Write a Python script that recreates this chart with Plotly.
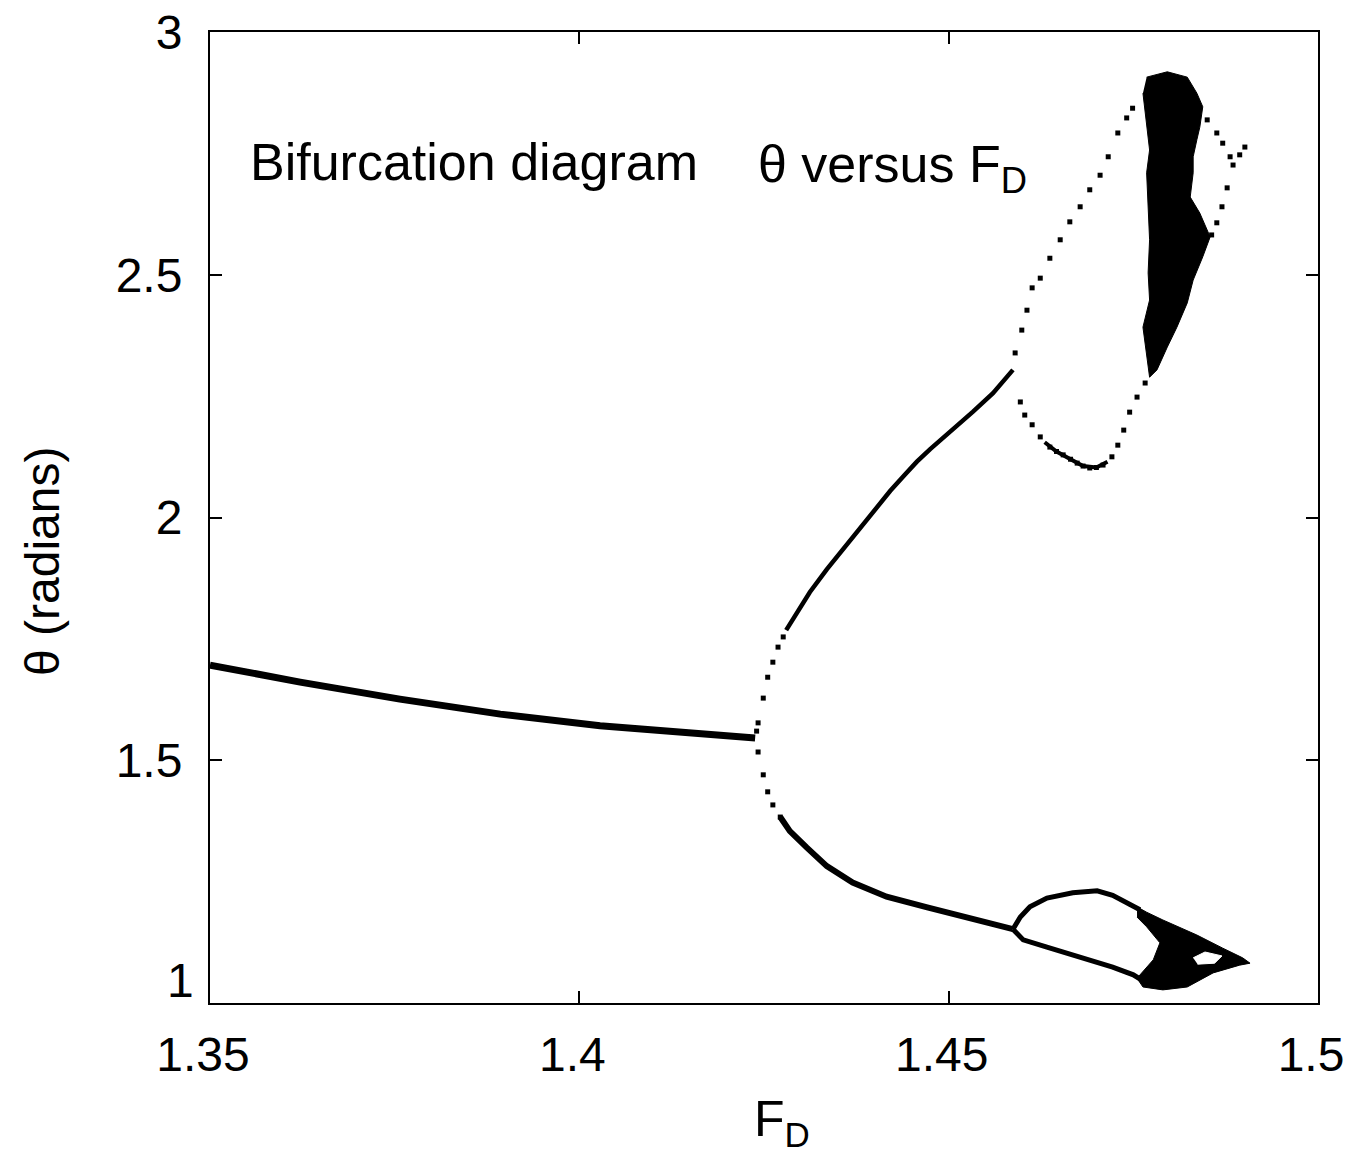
import plotly.graph_objects as go

# ---------------- data ----------------
# period-1 branch (solid)
p1_fd = [1.35, 1.3622, 1.3757, 1.3893, 1.4028, 1.4163, 1.4238]
p1_th = [1.696, 1.661, 1.626, 1.595, 1.571, 1.554, 1.546]

# sparse dots right after the first bifurcation
bif_dots_fd = [1.4240, 1.4242, 1.4249, 1.4255, 1.4262, 1.4269, 1.4276,
               1.4242, 1.4249, 1.4255, 1.4262, 1.4272]
bif_dots_th = [1.560, 1.577, 1.628, 1.671, 1.702, 1.733, 1.754,
               1.517, 1.470, 1.435, 1.408, 1.383]

# upper period-2 branch (solid)
up_fd = [1.4280, 1.4290, 1.4299, 1.4312, 1.4335, 1.4362, 1.4389, 1.4405, 1.4421,
         1.4440, 1.4457, 1.4475, 1.4492, 1.4512, 1.4533, 1.4560, 1.4587]
up_th = [1.768, 1.792, 1.814, 1.846, 1.893, 1.944, 1.993, 2.025, 2.055,
         2.087, 2.115, 2.141, 2.163, 2.190, 2.218, 2.256, 2.304]

# lower period-2 branch (solid)
lo_fd = [1.4272, 1.4285, 1.4308, 1.4335, 1.4370, 1.4416, 1.4471, 1.4533, 1.4587]
lo_th = [1.383, 1.354, 1.320, 1.282, 1.248, 1.219, 1.197, 1.172, 1.152]

# lower loop arcs
ll_up_fd = [1.4587, 1.4597, 1.4610, 1.4633, 1.4668, 1.4701, 1.4722, 1.4741, 1.4759]
ll_up_th = [1.152, 1.177, 1.198, 1.216, 1.227, 1.231, 1.222, 1.206, 1.192]
ll_dn_fd = [1.4587, 1.4601, 1.4633, 1.4678, 1.4722, 1.4750, 1.4768]
ll_dn_th = [1.152, 1.130, 1.115, 1.095, 1.074, 1.058, 1.041]

# lower chaotic band (outline)
lc_fd = [1.4755, 1.4768, 1.4790, 1.4836, 1.4871, 1.4898, 1.4908, 1.4894, 1.4858,
         1.4823, 1.4790, 1.4763, 1.4755, 1.4777, 1.4786, 1.4768, 1.4755]
lc_th = [1.198, 1.187, 1.171, 1.140, 1.113, 1.093, 1.082, 1.078, 1.062,
         1.033, 1.027, 1.033, 1.051, 1.089, 1.124, 1.157, 1.177]
# window inside the lower band
lh_fd = [1.4831, 1.4847, 1.4870, 1.4860, 1.4837]
lh_th = [1.093, 1.105, 1.097, 1.082, 1.080]

# upper loop: left dotted arc
ua_fd = [1.4590, 1.4599, 1.4606, 1.4613, 1.4624, 1.4637, 1.4651, 1.4664, 1.4678,
         1.4691, 1.4705, 1.4716, 1.4729, 1.4741, 1.4749]
ua_th = [2.339, 2.386, 2.427, 2.473, 2.493, 2.534, 2.572, 2.609, 2.640,
         2.675, 2.705, 2.743, 2.792, 2.823, 2.843]

# upper loop: lower dotted arc
ub_fd = [1.4597, 1.4603, 1.4613, 1.4624, 1.4637, 1.4646, 1.4655, 1.4665, 1.4674,
         1.4682, 1.4691, 1.4700, 1.4709, 1.4721, 1.4729, 1.4737, 1.4745, 1.4755, 1.4766]
ub_th = [2.238, 2.211, 2.191, 2.166, 2.145, 2.136, 2.129, 2.120, 2.112,
         2.106, 2.102, 2.103, 2.108, 2.125, 2.149, 2.180, 2.217, 2.248, 2.277]
# denser bottom of the upper loop (solid-looking)
ubs_fd = [1.4630, 1.4646, 1.4665, 1.4682, 1.4700, 1.4715]
ubs_th = [2.155, 2.136, 2.120, 2.106, 2.103, 2.115]

# upper loop: right dotted arc
uc_fd = [1.4850, 1.4863, 1.4871, 1.4881, 1.4885, 1.4894, 1.4901,
         1.4877, 1.4870, 1.4863, 1.4856]
uc_th = [2.819, 2.792, 2.771, 2.743, 2.726, 2.747, 2.763,
         2.679, 2.640, 2.607, 2.582]

# upper chaotic cloud (outline)
cl_fd = [1.4768, 1.4796, 1.4823, 1.4836, 1.4844, 1.4840, 1.4836, 1.4831, 1.4831,
         1.4827, 1.4840, 1.4854, 1.4844, 1.4831, 1.4823, 1.4809, 1.4796, 1.4782,
         1.4772, 1.4768, 1.4763, 1.4772, 1.4770, 1.4772, 1.4770, 1.4768, 1.4772,
         1.4768, 1.4763]
cl_th = [2.907, 2.918, 2.907, 2.874, 2.846, 2.804, 2.778, 2.743, 2.710,
         2.660, 2.627, 2.578, 2.537, 2.489, 2.442, 2.392, 2.351, 2.304,
         2.289, 2.331, 2.392, 2.448, 2.504, 2.572, 2.640, 2.710, 2.757,
         2.804, 2.874]

x_ticks = [1.35, 1.4, 1.45, 1.5]
x_tick_text = ["1.35", "1.4", "1.45", "1.5"]
y_ticks = [1, 1.5, 2, 2.5, 3]
y_tick_text = ["1", "1.5", "2", "2.5", "3"]

# ---------------- figure ----------------
FONT = "Liberation Sans, Arial, Helvetica, sans-serif"
fig = go.Figure()

def line(x, y, w):
    fig.add_trace(go.Scatter(x=x, y=y, mode="lines",
                             line=dict(color="black", width=w),
                             hoverinfo="skip", showlegend=False))

def dots(x, y, s=5, color="black"):
    fig.add_trace(go.Scatter(x=x, y=y, mode="markers",
                             marker=dict(color=color, size=s, symbol="square"),
                             hoverinfo="skip", showlegend=False))

def poly(x, y, color):
    fig.add_trace(go.Scatter(x=x, y=y, mode="lines", fill="toself",
                             fillcolor=color, line=dict(color=color, width=1),
                             hoverinfo="skip", showlegend=False))

line(p1_fd, p1_th, 7)
dots(bif_dots_fd, bif_dots_th, 5)
line(up_fd, up_th, 4.5)
line(lo_fd, lo_th, 6)
line(ll_up_fd, ll_up_th, 5)
line(ll_dn_fd, ll_dn_th, 5)
poly(lc_fd, lc_th, "black")
poly(lh_fd, lh_th, "white")
dots(ua_fd, ua_th, 5)
dots(ub_fd, ub_th, 5)
line(ubs_fd, ubs_th, 4)
dots(uc_fd, uc_th, 5)
poly(cl_fd, cl_th, "black")

axis_common = dict(showline=True, linecolor="black", linewidth=2, mirror="ticks",
                   ticks="inside", ticklen=12, tickwidth=1.5, tickcolor="black",
                   showgrid=False, zeroline=False, ticklabeloverflow="allow",
                   automargin=False)

# the lowest y label sits just above the corner (as in the reference), so it is
# drawn separately as an annotation; the others are regular tick labels
y_axis_text = [""] + y_tick_text[1:]

fig.update_xaxes(range=[1.3499999, 1.5000001], tickvals=x_ticks, ticktext=x_tick_text,
                 ticklabelstandoff=8, ticklabelshift=-7,
                 tickfont=dict(family=FONT, size=48, color="black"), **axis_common)
fig.update_yaxes(range=[0.9999999, 3.0000001], tickvals=y_ticks, ticktext=y_axis_text,
                 ticklabelstandoff=16,
                 tickfont=dict(family=FONT, size=48, color="black"), **axis_common)

fig.add_annotation(text=y_tick_text[0], xref="paper", yref="y",
                   x=0, y=y_ticks[0], xanchor="right", yanchor="bottom",
                   xshift=-14, yshift=-6, showarrow=False,
                   font=dict(family=FONT, size=48, color="black"))

fig.add_annotation(text="Bifurcation diagram", xref="paper", yref="paper",
                   x=(248 - 210) / 1108, y=(1003 - 162) / 971,
                   xanchor="left", yanchor="middle", showarrow=False,
                   font=dict(family=FONT, size=52, color="black"))
fig.add_annotation(text="θ versus F<sub>D</sub>", xref="paper", yref="paper",
                   x=(756 - 210) / 1108, y=(1003 - 168) / 971,
                   xanchor="left", yanchor="middle", showarrow=False,
                   font=dict(family=FONT, size=52, color="black"))
fig.add_annotation(text="F<sub>D</sub>", xref="paper", yref="paper",
                   x=(782 - 210) / 1108, y=(1003 - 1122) / 971,
                   xanchor="center", yanchor="middle", showarrow=False,
                   font=dict(family=FONT, size=50, color="black"))
fig.add_annotation(text="θ (radians)", xref="paper", yref="paper",
                   x=(42 - 210) / 1108, y=(1003 - 562) / 971, textangle=-90,
                   xanchor="center", yanchor="middle", showarrow=False,
                   font=dict(family=FONT, size=48, color="black"))

fig.update_layout(width=1348, height=1164,
                  margin=dict(l=210, r=30, t=32, b=161, pad=0, autoexpand=False),
                  paper_bgcolor="white", plot_bgcolor="white",
                  showlegend=False)

fig.write_html("out.html")
